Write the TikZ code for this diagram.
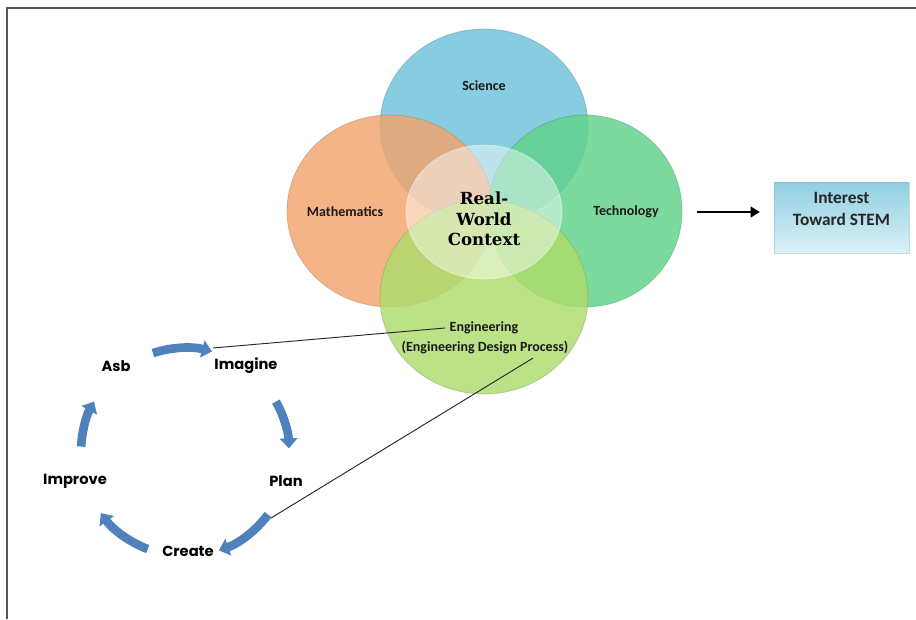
\documentclass[tikz,border=0pt]{standalone}
\usepackage{fontspec}
\setmainfont{Carlito}
\newfontfamily\gothicfont{Poppins}
\newfontfamily\slabfont{DejaVu Serif}
\usetikzlibrary{shapes.geometric,arrows.meta}

\definecolor{sciblue}{HTML}{6EC1DB}
\definecolor{mathorange}{HTML}{F2A46C}
\definecolor{techgreen}{HTML}{5FD28A}
\definecolor{enggreen}{HTML}{ADDC6C}
\definecolor{cycleblue}{HTML}{4F81BD}
\definecolor{boxblue}{HTML}{8FCFE2}
\definecolor{boxlight}{HTML}{DDF0F6}
\definecolor{framegray}{HTML}{555555}

\begin{document}
\begin{tikzpicture}[x=0.75pt,y=0.75pt,
        field/.style={fill=#1, fill opacity=0.82, draw=#1!70!black, draw opacity=0.4, line width=0.6},
        fieldlabel/.style={font=\bfseries\fontsize{10.5}{12}\selectfont, text=black!90},
        steplabel/.style={font=\gothicfont\bfseries\fontsize{11}{13}\selectfont},
        cyclearrow/.style={draw=cycleblue, line width=6.5pt, -{Triangle[width=13pt,length=7.5pt]}},
        stembox/.style={rectangle, draw=boxblue!70!gray, draw opacity=0.5, top color=boxblue, bottom color=boxlight, minimum width=101pt, minimum height=53pt},
        connector/.style={draw=black!85, line width=0.7},
        ]

        \useasboundingbox (0,0) rectangle (916,619);

        % Frame
        \draw[framegray, line width=1.5] (7,0) -- (7,610.5) -- (916,610.5);

        % Circles
        \path[field=sciblue] (484,493) ellipse [x radius=104, y radius=97];
        \path[field=mathorange] (390,408) ellipse [x radius=103, y radius=96];
        \path[field=techgreen] (585,408) ellipse [x radius=97, y radius=96];
        \path[field=enggreen] (484,322) ellipse [x radius=104, y radius=97];
        \path[fill=white, fill opacity=0.45, draw=white, draw opacity=0.6] (484,407) ellipse [x radius=78, y radius=67];

        % Labels
        \node[fieldlabel] (science) at (484,533) {Science};
        \node[fieldlabel] (maths) at (345,407) {Mathematics};
        \node[fieldlabel] (tech) at (626,407) {Technology};
        \node[fieldlabel] (eng) at (484,291) {Engineering};
        \node[fieldlabel] (edp) at (485,272) {(Engineering Design Process)};
        \node[font=\slabfont\bfseries\fontsize{12.5}{15.4}\selectfont, align=center] (context) at (484,400) {Real-\\World\\Context};

        % Interest
        \node[stembox] (stem) at (841.5,401.5) {};
        \node[font=\bfseries\fontsize{13}{17}\selectfont, align=center, text=black!85] (stemtext) at (841.5,410) {Interest\\Toward STEM};
        \coordinate (arrowstart) at (697,407);
        \draw[line width=2.2, -{Triangle[width=8pt,length=7pt]}] (arrowstart) -- ([xshift=-10.5pt]stem.west |- arrowstart);

        % Design cycle
        \coordinate (cyc) at (185,167);
        \node[steplabel] (ask) at (116,253) {Asb};
        \node[steplabel] (imagine) at (246,253) {Imagine};
        \node[steplabel] (plan) at (286,138) {Plan};
        \node[steplabel] (create) at (188,68) {Create};
        \node[steplabel] (improve) at (75,138) {Improve};

        \draw[cyclearrow] ([shift={(108:104)}]cyc) arc[start angle=108, end angle=75, radius=104];
        \draw[cyclearrow] ([shift={(29:104)}]cyc) arc[start angle=29, end angle=2, radius=104];
        \draw[cyclearrow] ([shift={(-37:104)}]cyc) arc[start angle=-37, end angle=-71, radius=104];
        \draw[cyclearrow] ([shift={(-111:104)}]cyc) arc[start angle=-111, end angle=-144, radius=104];
        \draw[cyclearrow] ([shift={(177:104)}]cyc) arc[start angle=177, end angle=151, radius=104];

        % Links to engineering
        \coordinate (imaginetip) at (213,271);
        \coordinate (planend) at (271,101);
        \draw[connector] (imaginetip) -- (eng.west);
        \draw[connector] (planend) -- ([xshift=36pt]edp.south);

\end{tikzpicture}
\end{document}
